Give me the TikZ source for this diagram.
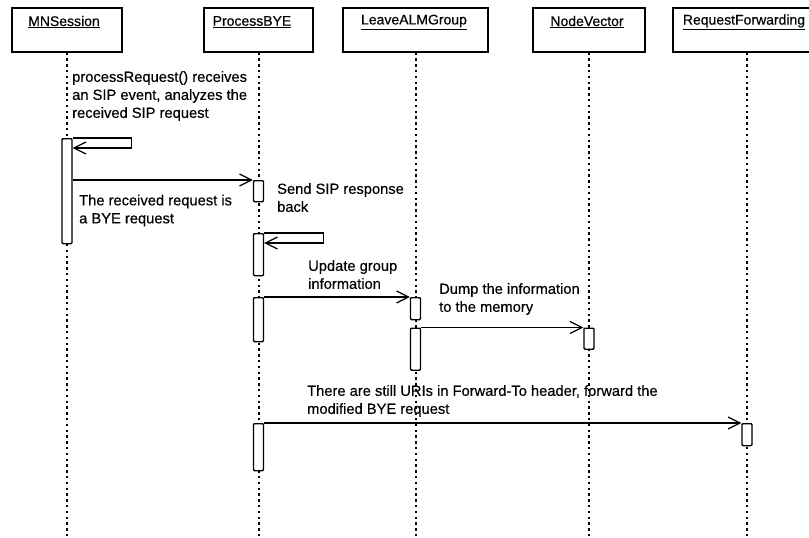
\documentclass[tikz,border=0pt]{standalone}
\usepackage{fontspec}
\setmainfont{Liberation Sans}[FakeBold=0.35]
\usetikzlibrary{arrows.meta}
\begin{document}
\begin{tikzpicture}[x=1pt,y=-1pt,
  objbox/.style={draw, line width=1.3pt, minimum height=44pt, inner sep=0pt},
  objname/.style={font=\fontsize{14}{17}\selectfont, inner sep=0pt},
  lifeline/.style={line width=2pt, dash pattern=on 2.4pt off 3.4pt},
  act/.style={draw, fill=white, line width=1.3pt, minimum width=10pt, inner sep=0pt, rounded corners=1pt},
  msg/.style={line width=1.2pt, -{Straight Barb[length=12pt,width=12pt,line width=1.2pt]}},
  note/.style={font=\fontsize{14.7}{18}\selectfont, align=left, inner sep=0pt, anchor=north west},
]
\path[use as bounding box] (0,0) rectangle (809,538);
\clip (0,0) rectangle (809,538);

% object boxes
\node[objbox, minimum width=110pt] (mn) at (67,30) {};
\node[objbox, minimum width=109pt] (pb) at (258.5,30) {};
\node[objbox, minimum width=145pt] (la) at (415.5,30) {};
\node[objbox, minimum width=112pt] (nv) at (589,30) {};
\node[objbox, minimum width=148pt] (rf) at (747,30) {};

\node[objname] (mnT) at (64,22) {\underline{MNSession}};
\node[objname] (pbT) at (252,22) {\underline{ProcessBYE}};
\node[objname] (laT) at (414,22) {\underline{LeaveALMGroup}};
\node[objname] (nvT) at (587,22) {\underline{NodeVector}};
\node[objname] (rfT) at (744,22) {\underline{RequestForwarding}};

% lifelines
\coordinate (mnEnd) at (67,538);
\coordinate (pbEnd) at (258.5,538);
\coordinate (laEnd) at (415.5,538);
\coordinate (nvEnd) at (589,538);
\coordinate (rfEnd) at (747,538);
\draw[lifeline] (mn.south) -- (mnEnd);
\draw[lifeline] (pb.south) -- (pbEnd);
\draw[lifeline] (la.south) -- (laEnd);
\draw[lifeline] (nv.south) -- (nvEnd);
\draw[lifeline] (rf.south) -- (rfEnd);

% activations
\node[act, minimum height=105pt, anchor=north] (mnA) at (67,138) {};
\node[act, minimum height=21pt, anchor=north] (pbA1) at (258.5,180) {};
\node[act, minimum height=42pt, anchor=north] (pbA2) at (258.5,233) {};
\node[act, minimum height=44pt, anchor=north] (pbA3) at (258.5,297) {};
\node[act, minimum height=47pt, anchor=north] (pbA4) at (258.5,423) {};
\node[act, minimum height=22pt, anchor=north] (laA1) at (415.5,297) {};
\node[act, minimum height=42pt, anchor=north] (laA2) at (415.5,327.5) {};
\node[act, minimum height=21pt, anchor=north] (nvA) at (589,327.5) {};
\node[act, minimum height=22pt, anchor=north] (rfA) at (747,423) {};

% messages
\draw[msg] (mnA.north east) -- ++(59,0) -- ++(0,10) -- ([yshift=-10pt]mnA.north east);
\draw[msg] (mnA.east |- pbA1.north) -- (pbA1.north west);
\draw[msg] (pbA2.north east) -- ++(59,0) -- ++(0,10) -- ([yshift=-10pt]pbA2.north east);
\draw[msg] (pbA3.north east) -- (laA1.north west);
\draw[msg] (laA2.north east) -- (nvA.north west);
\draw[msg] (pbA4.north east) -- (rfA.north west);

% notes
\node[note] (n1) at (72,71) {processRequest() receives\\an SIP event, analyzes the\\received SIP request};
\node[note] (n2) at (79,194.5) {The received request is\\a BYE request};
\node[note] (n3) at (277,183) {Send SIP response\\back};
\node[note] (n4) at (308,260) {Update group\\information};
\node[note] (n5) at (439,283) {Dump the information\\to the memory};
\node[note] (n6) at (307,385) {There are still URIs in Forward-To header, forward the\\modified BYE request};
\end{tikzpicture}
\end{document}
